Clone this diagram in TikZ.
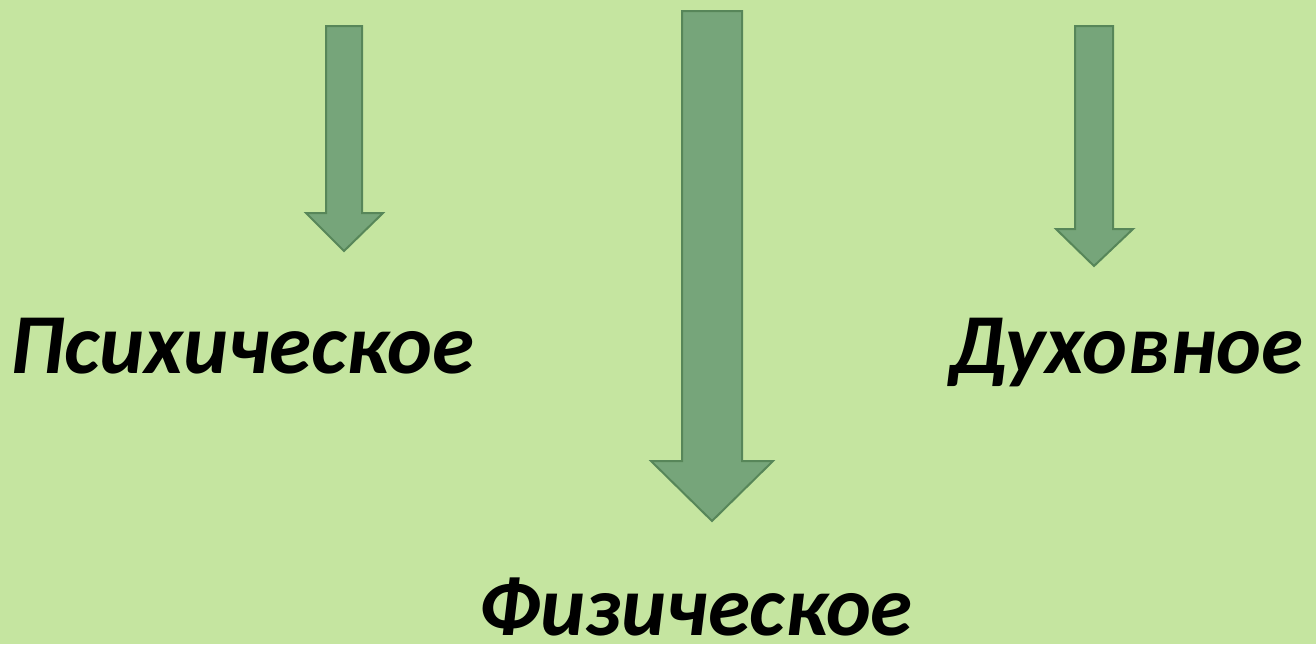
\documentclass[tikz,border=0pt]{standalone}
\usepackage{fontspec}
\setmainfont{Carlito}
\definecolor{bg}{HTML}{C5E5A0}
\definecolor{arrfill}{HTML}{76A57A}
\definecolor{arrline}{HTML}{578659}
\begin{document}
\begin{tikzpicture}[x=0.75pt,y=-0.75pt,
  arrowshape/.style={fill=arrfill,draw=arrline,line width=1.5pt,line join=miter},
  label/.style={inner sep=0pt,anchor=base west,font=\fontsize{64pt}{76pt}\selectfont\bfseries\itshape}]
\fill[bg] (0,0) rectangle (1316,644);
\useasboundingbox (0,0) rectangle (1316,644);
% left arrow
\draw[arrowshape] (326,26) -- (362,26) -- (362,213) -- (383,213) -- (344,251) -- (306,213) -- (326,213) -- cycle;
% middle arrow
\draw[arrowshape] (682,11) -- (742,11) -- (742,461) -- (773,461) -- (712,521) -- (651,461) -- (682,461) -- cycle;
% right arrow
\draw[arrowshape] (1075,26) -- (1113,26) -- (1113,229) -- (1133,229) -- (1094,266) -- (1056,229) -- (1075,229) -- cycle;
\node[label] (psy) at (10,373) {Психическое};
\node[label] (duh) at (949,373) {Духовное};
\node[label] (fiz) at (478,635) {Физическое};
\end{tikzpicture}
\end{document}
